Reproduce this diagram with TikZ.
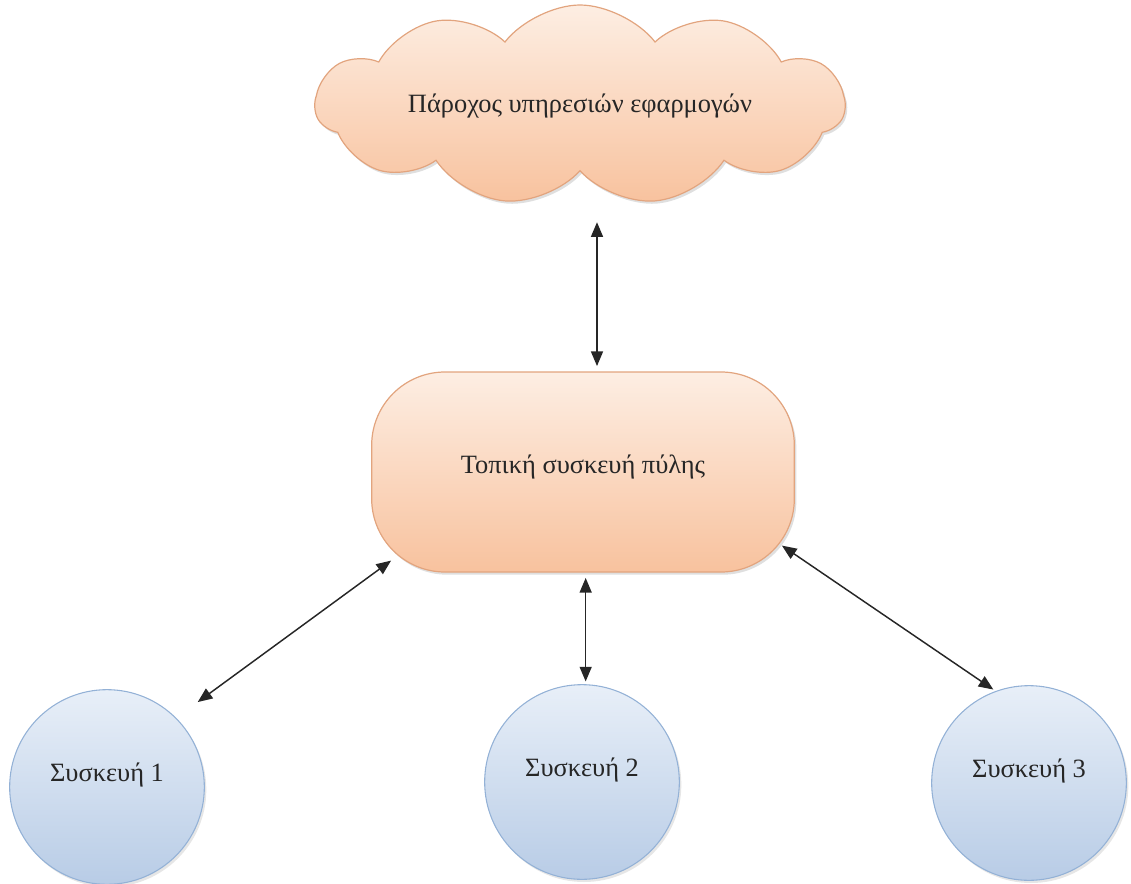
\documentclass[tikz,border=0pt]{standalone}
\usepackage{fontspec}
\setmainfont{Liberation Serif}
\usetikzlibrary{shapes.symbols,shadows,arrows.meta}

\definecolor{peachTop}{HTML}{FDEEE3}
\definecolor{peachBot}{HTML}{F8C29E}
\definecolor{peachLine}{HTML}{E2A47E}
\definecolor{blueTop}{HTML}{E8EFF8}
\definecolor{blueBot}{HTML}{B8CCE6}
\definecolor{blueLine}{HTML}{93B1D6}

\begin{document}
\begin{tikzpicture}[x=0.75pt,y=-0.75pt,
  lbl/.style={font=\fontsize{19.8}{23}\selectfont, text=black!85},
  peach/.style={draw=peachLine, line width=0.9pt, top color=peachTop, bottom color=peachBot,
    drop shadow={opacity=0.25, shadow xshift=1.5pt, shadow yshift=-2pt}},
  provider/.style={peach, cloud, cloud puffs=11, cloud puff arc=105, aspect=2.65,
    minimum width=397pt, minimum height=150pt, inner sep=0pt},
  gateway/.style={peach, lbl, rectangle, rounded corners=55pt, text depth=12pt,
    minimum width=317pt, minimum height=150pt},
  device/.style={draw=blueLine, line width=0.8pt, lbl, circle, top color=blueTop, bottom color=blueBot,
    minimum size=146pt, inner sep=0pt, text depth=22pt,
    drop shadow={opacity=0.2, shadow xshift=1.5pt, shadow yshift=-2pt}},
  link/.style={line width=1.1pt, draw=black!85,
    {Triangle[length=11pt,width=9pt]}-{Triangle[length=11pt,width=9pt]}}
]
\useasboundingbox (0,0) rectangle (1131,884);

\node[provider, label={[lbl, yshift=-1pt]center:Πάροχος υπηρεσιών εφαρμογών}] (cloud) at (580,105) {};
\node[gateway] (gw) at (583,472) {Τοπική συσκευή πύλης};

\node[device] (d1) at (107,787) {Συσκευή 1};
\node[device] (d2) at (582,782) {Συσκευή 2};
\node[device] (d3) at (1029,783) {Συσκευή 3};

% attachment points on the gateway
\coordinate (up) at ([xshift=10.5pt]gw.north);
\coordinate (dn) at ([xshift=2pt]gw.south);

% links between the nodes
\draw[link, shorten <=38pt, shorten >=4pt] (up |- cloud.south) -- (up);
\draw[link, shorten <=4pt, shorten >=2pt] (dn) -- (dn |- d2.north);
\draw[link, shorten >=20pt] ([shift={(20,-12)}]gw.south west) -- (d1.45);
\draw[link, shorten >=2pt] ([shift={(-13,-27)}]gw.south east) -- (d3.110);
\end{tikzpicture}
\end{document}
